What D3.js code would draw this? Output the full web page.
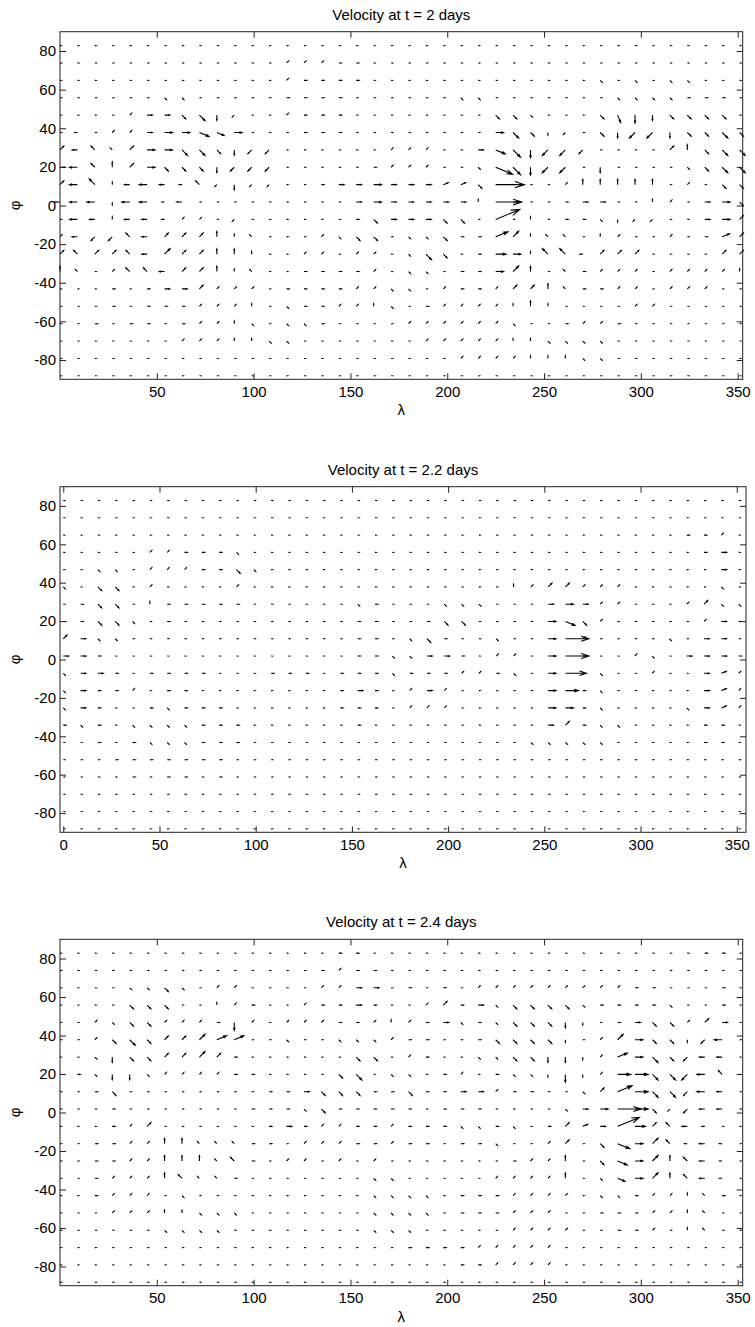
<!DOCTYPE html>
<html>
<head>
<meta charset="utf-8">
<script src="https://cdn.jsdelivr.net/npm/d3@7"></script>
<style>
  body { margin: 0; background: #fff; }
  svg { display: block; }
</style>
</head>
<body>
<svg id="fig" width="755" height="1327"></svg>
<script>
// Grid of the velocity field (degrees)
const longitudes = [0, 9, 18, 27, 36, 45, 54, 63, 72, 81, 90, 99, 108, 117, 126, 135, 144, 153, 162, 171,
  180, 189, 198, 207, 216, 225, 234, 243, 252, 261, 270, 279, 288, 297, 306, 315, 324, 333, 342, 351];
const latitudes = [82.8, 73.8, 64.8, 55.8, 46.8, 37.8, 28.8, 19.8, 10.8, 1.8,
  -7.2, -16.2, -25.2, -34.2, -43.2, -52.2, -61.2, -70.2, -79.2, -88.2];

const panelTitles = ["Velocity at t = 2 days", "Velocity at t = 2.2 days", "Velocity at t = 2.4 days"];
const lonTicksShort = [50, 100, 150, 200, 250, 300, 350];
const lonTicksFull = [0, 50, 100, 150, 200, 250, 300, 350];
const latTicks = [-80, -60, -40, -20, 0, 20, 40, 60, 80];

// Wind at every grid point, one string per latitude (north to south), one token per longitude.
// Token: direction letter a..p (a = east, counter-clockwise in 22.5 degree steps) + speed 0..F (m/s),
// "." = calm point.
const velocityDay2 = [
  ". . . . . . . . . .  . . . . . . . . . .  . . . . . . . . . .  . . . . . . . . . .",
  ". . . . . . . . . .  . . . c1 c1 c1 a1 a1 . .  . . . . . . . . . .  . . . . . . . . . .",
  ". . . . . . . . . .  . . . c1 a1 a1 a1 a1 . .  . . . . . . . . . .  . o1 . o1 . o1 o1 . . .",
  ". . . . . . o1 o1 . .  . . . a1 a1 a1 a1 . . .  . . . o1 o1 . . . . .  . . o1 o1 o1 o1 a1 a1 a1 .",
  ". . . . c1 a2 a2 o2 o3 m2  k1 . . c1 a1 a1 a1 . . .  . . . . . o2 o2 o1 . .  . o2 n3 m3 m2 o2 o2 o2 o2 .",
  ". i1 . c1 c1 a2 a3 a3 p4 p3  a3 . . . a1 a1 a1 . . .  . . . . . a3 o3 o2 m1 k1  . o2 m2 k3 k3 m2 o2 o2 o3 o2",
  "c2 i2 g2 g1 c2 a3 a3 o3 o3 o2  m2 k2 k2 . . . . . . c1  c1 c1 . . a2 p4 o4 m3 k3 k3  k2 . . . . c2 e2 o2 o3 o3",
  "a2 i3 g2 e2 c2 a3 o2 o2 o2 m2  k2 k2 k2 . . . . . a1 c1  c1 c1 . . o1 p7 o4 m3 k3 k3  . m2 . . . . o1 o2 o3 o3",
  "c2 i3 g3 e1 i2 i3 i2 i1 g2 k1  m2 k1 k1 . . a1 a2 a2 a3 a2  a2 a2 b2 b2 o2 aB . . . c1  e2 e2 e2 e2 e2 . c1 . o2 o2",
  "i2 i3 i3 m1 i3 i3 i1 i2 . .  . . . . . . . a2 a3 a2  a2 a2 a2 a2 e1 aA a2 . . a1  a2 a2 . . e1 c1 . a2 a3 o2",
  ". i3 i2 e1 i2 i2 i1 c1 c1 .  k1 . . . . . . a1 o2 a2  a2 a2 o2 o2 . bA . e1 . a1  a1 o1 m1 k1 k1 . . a2 a3 c2",
  "c1 i2 k2 k2 g2 i2 c2 c2 c2 e2  e1 g1 . . . c1 o1 o2 o2 .  o1 o1 o2 a1 a1 b5 c3 e1 g1 g1  . e1 c1 . . c1 . a1 b3 c2",
  "c2 g2 c2 c2 g2 i2 c3 c2 c2 e2  e2 e1 . . c1 c1 . c1 c1 .  o1 o3 o2 . a1 a4 a3 e1 g3 g3  i1 c2 c2 c2 . . . . c2 c2",
  "e2 g1 . c1 g2 g2 i2 c2 c2 e2  e1 g1 . . a1 a1 a1 a1 c1 .  o1 o1 . a1 a1 a3 c3 e2 . g1  a1 c1 c1 c1 . c1 c1 c1 c1 e1",
  ". . . a1 . a1 a2 a2 c2 c1  c1 c1 . a1 a1 a1 a1 c1 c1 o1  o1 . c1 a1 a1 c1 c2 c2 e2 g1  a1 a1 c1 c1 . c1 c1 c1 . .",
  ". . . a1 . a1 a1 a1 c1 c1  c1 e1 . o1 a1 a1 c1 c1 e1 o1  . a1 c1 c1 c1 c1 e1 e2 e1 .  . . . c1 c1 . . . . .",
  ". . a1 . a1 a1 . a1 c1 c1  e1 o1 . o1 o1 a1 . . . .  c1 c1 c1 c1 c1 c1 o1 . . a1  c1 c1 a1 . . . . . . .",
  ". . . . . . . c1 c1 c1  e1 e1 o1 o1 . . . . . .  . c1 c1 c1 c1 c1 e1 e1 o1 o1  o1 o1 . . . . . . . .",
  ". . . . . . . . . .  . . . . . . . . . .  . . . c1 c1 c1 c1 e1 e1 e1  o1 o1 . . . . . . . .",
  ". . . . . . . . . .  . . . . . . . . . .  . . . . . . . . . .  . . . . . . . . . ."
];

const velocityDay2p2 = [
  ". . . . . . . . . .  . . . . . . . . . .  . . . . . . . . . .  . . . . . . . . . .",
  ". . . . . . . . . .  . . . . . . . . . .  . . . . . . . . . .  . . . . . . . . . .",
  ". . . . . . . . . .  . . . . . . . . . .  . . . . . . . . . .  . . . . . . a1 a1 c1 .",
  ". . . . . c1 c1 a1 a1 a1  o1 . . . . . . . . .  . . . . . . . . . .  . . . . . . . a1 a2 .",
  ". . o1 o1 . c1 c1 c1 a1 a1  o2 o1 . . . . . . . .  . . . . . . . . . .  . . . . . . . . a2 .",
  "o1 . o2 o2 . c1 . . . .  c1 . . . . . . . . .  . . . . . . e1 c1 c2 c2  c1 c1 c1 . . . . . o1 .",
  ". a1 o2 o2 . e1 a1 a1 a1 a1  a1 . . . . . . o1 a1 .  . . o1 o1 o1 . . . a2 a3  a2 c1 c1 . . . c1 c2 o1 o1",
  "a1 a1 o2 o2 o1 . a1 . . .  . . . . . . . a1 a1 .  . a1 o2 o2 . . . . a3 p4  o2 c1 . . . . . c1 a2 a1",
  "c2 a2 o1 o1 . . . . . .  . . . . . . . a1 a1 .  o1 o2 a1 . . o1 . . a3 a9  c1 . . . . o1 . a2 a2 .",
  "a2 a2 a1 . . . . . . .  . . . . . . . a1 a1 o1  o1 a2 a2 a1 . c1 c1 . a3 a9  . . . c1 o1 . a2 a2 a2 a1",
  "o1 a2 a2 a1 . a1 a1 a1 a1 .  . . a1 a1 a1 . a1 a1 a1 o1  a1 a1 a1 c1 c1 a1 o1 . a3 a8  . o1 . . c1 . . a2 b2 c1",
  "o1 a2 a1 a1 c1 . a1 a1 . .  . . . . . . a1 a2 a1 .  c1 a2 c1 . . . . . a3 a5  a1 o1 . . . . . a2 b2 c1",
  "o1 a2 a1 . . a1 o1 a1 a1 a1  . . . . . . a1 a1 a1 .  c1 c1 c1 . . . . . a3 a3  a1 o1 . . . . o1 a2 b2 c1",
  "a1 o1 a1 . o1 o1 o1 o1 a1 a1  a1 . . . . . . a1 . .  . . . . . . . . a2 c2  a1 o1 o1 . . . . a1 a1 .",
  ". . a1 . a1 o1 o1 o1 a1 a1  a1 . . . . . . . . .  . . . . . . . o1 o1 o1  o1 o1 . . . . . a1 a1 .",
  ". . . a1 a1 a1 a1 a1 a1 a1  . . . . . . . . . .  . . . . . . . . . .  . . . . . . . . . .",
  ". . . . a1 . a1 a1 . a1  . . . . . . . . . .  . . . . . . . . . .  . . . . . . . . . .",
  ". . . . . . . . . .  . . . . . . . . . .  . . . . . . . . . .  . . . . . . . . . .",
  ". . . . . . . . . .  . . . . . . . . . .  . . . . . . . . . .  . . . . . . . . . .",
  ". . . . . . . . . .  . . . . . . . . . .  . . . . . . . . . .  . . . . . . . . . ."
];

const velocityDay2p4 = [
  ". . . . . . . . . .  . . . . . . a1 a1 . .  . . . . . . . . . .  . . . . . . . a1 a1 .",
  ". . . . . . . . . .  . . . . . a1 c1 a1 a1 .  . . . . . . . . . .  . . . . . . . . . .",
  ". . . . o1 o1 o2 o1 . c1  c1 . . . . c1 c1 a2 a2 .  a1 . a1 . c1 c1 c1 c1 c1 c1  c1 c1 c1 a1 a1 . . . a1 .",
  ". . . . o2 o2 o2 . . e1  c1 a1 . . c1 a1 a1 a2 a1 .  . c1 c2 a1 a2 o1 o2 o2 o2 o2  o1 a1 a1 a1 a1 o1 . . a1 .",
  ". . c1 o1 o2 o2 c1 c1 c1 a1  m3 c1 . c1 c1 c1 a1 a1 c1 e1  c1 a1 a2 o1 a1 o1 o2 o2 o2 m2  m1 . a1 a2 o2 o2 c1 c2 a2 .",
  ". . c1 o2 o3 o2 c2 c2 c3 b4  b4 . . o1 . . o1 o1 o1 c1  a1 a1 . . a1 o2 o2 o2 o2 m1  . c1 c3 a3 o2 o2 m1 k2 i3 .",
  ". . o1 m2 o2 o2 c2 c2 c3 c2  a1 . . . . . . o2 o2 .  c1 a1 . . o1 o1 o2 o2 m2 m2  m1 c1 b4 a3 o3 o2 k2 i2 i2 .",
  ". a1 o1 m2 m2 o1 c1 c1 c1 c1  a1 a1 . . . . o2 o3 . o1  o1 . a1 c1 . a1 o1 o1 m1 m3  m1 c1 a5 a5 o3 o3 k3 i3 g2 .",
  ". . a1 o2 . . . . . .  . . a1 a1 a2 o2 o2 o2 a1 a1  o2 a1 a1 a2 a2 c1 a1 a1 . .  o1 c2 b6 a5 o3 o3 k2 i3 i2 .",
  ". . . a1 . . . . . .  . a1 a1 a1 o1 o2 a1 a1 a1 a1  a1 . a1 a1 a1 . . . . o1  a2 a3 a9 a5 o2 k1 k2 i2 i2 .",
  ". . . a1 c1 c2 . . . .  . . a1 a2 a1 c1 c1 a1 a1 c1  a1 a1 a1 o1 o1 a1 o1 . a1 c2  b2 a2 b9 a4 c2 g2 i2 i1 . .",
  ". . a1 a1 c1 c1 e2 e2 g1 g1  g1 a1 a1 . c1 c1 c1 a1 a1 c1  a1 a1 . a1 a1 o1 . . c1 c2  . o2 p5 a3 c3 g2 i1 i2 i1 .",
  ". . a1 a1 c1 c1 e2 e2 e2 g1  g2 a1 . c1 c1 . c1 . c1 .  . . . . . . a1 c1 c1 e2  . o2 p4 a3 c3 e2 g2 i2 i1 .",
  ". . a1 c1 c1 c1 e2 g2 g1 g1  a1 . . . . . . . o1 o1  . . . . . c1 c1 c1 c1 e2  . o1 p3 a3 c3 e2 g2 i2 i1 .",
  ". . a1 c1 c1 c1 . o1 . .  . . . . . . . . o1 o1  o1 o1 . a1 a1 a1 c1 c1 c1 c1  . o1 o1 a1 c1 c1 e1 g1 a1 .",
  ". . . c1 c1 c1 e1 e1 o1 o1  o1 . . . . . . . o1 o1  o1 o1 . a1 a1 a1 c1 c1 c1 .  . a1 a1 a1 c1 c1 e1 g1 . .",
  ". . . . . . o1 o1 o1 o1  . . . . . . . . o1 o1  o1 . . . . . c1 c1 c1 c1  . . a1 a1 c1 . e1 g1 . .",
  ". . . . . . . . . .  . . . . . . . . . .  a1 a1 a1 a1 c1 c1 c1 c1 c1 .  . . . . . . . . . .",
  ". . . . . . . . . .  . . . . . . . . . .  . . . a1 a1 c1 c1 c1 c1 .  . . . . . . . . . .",
  ". . . . . . . . . .  . . . . . . . . . .  . . . . . . . . . .  . . . . . . . . . ."
];

// ---- decoding of the wind tokens ----
const DIRECTIONS = "abcdefghijklmnop";
const SPEED_CODES = "0123456789ABCDEF";
const CALM_SPEED = 0.5;

function decodeField(rows) {
  if (rows.length !== latitudes.length) throw new Error("field needs " + latitudes.length + " rows");
  const points = [];
  rows.forEach((row, r) => {
    const tokens = row.match(/[a-p][0-9A-F]|\./g);
    if (tokens.length !== longitudes.length) {
      throw new Error("row " + r + " has " + tokens.length + " tokens");
    }
    tokens.forEach((t, c) => {
      let u = CALM_SPEED, v = 0;
      if (t !== ".") {
        const ang = DIRECTIONS.indexOf(t[0]) * Math.PI / 8;
        const s = SPEED_CODES.indexOf(t[1]) || CALM_SPEED;
        u = s * Math.cos(ang);
        v = s * Math.sin(ang);
      }
      points.push({ lon: longitudes[c], lat: latitudes[r], u, v });
    });
  });
  return points;
}

// ---- layout ----
const panels = [
  { title: panelTitles[0], field: velocityDay2,   left: 60, right: 742.7, top: 31.7,  bottom: 379.3,  lonDomain: [0, 352.6],    lonTicks: lonTicksShort },
  { title: panelTitles[1], field: velocityDay2p2, left: 60, right: 746,   top: 486.7, bottom: 832.3,  lonDomain: [-1.7, 354.8], lonTicks: lonTicksFull },
  { title: panelTitles[2], field: velocityDay2p4, left: 60, right: 742.7, top: 939.3, bottom: 1285.7, lonDomain: [0, 352.6],    lonTicks: lonTicksShort }
];

const FONT = "'Liberation Sans', Arial, Helvetica, sans-serif";
const DEG_PER_MS = 1.35;      // arrow length: degrees per m/s
const HEAD_A = 0.33, HEAD_B = 0.33;  // quiver arrow-head proportions
const TICK = 6;

const svg = d3.select("#fig");

panels.forEach(p => {
  const g = svg.append("g");
  const x = d3.scaleLinear().domain(p.lonDomain).range([p.left, p.right]);
  const y = d3.scaleLinear().domain([-90, 90]).range([p.bottom, p.top]);
  const cx = (p.left + p.right) / 2;
  const cy = (p.top + p.bottom) / 2;

  // arrows
  const pts = decodeField(p.field);
  g.append("g")
    .attr("fill", "none")
    .attr("stroke", "#000")
    .attr("stroke-width", 1.1)
    .selectAll("path")
    .data(pts)
    .join("path")
    .attr("d", d => {
      const x0 = x(d.lon), y0 = y(d.lat);
      const x1 = x(d.lon + d.u * DEG_PER_MS), y1 = y(d.lat + d.v * DEG_PER_MS);
      const U = x1 - x0, V = y0 - y1;   // upward positive
      const h1x = x1 - HEAD_A * (U + HEAD_B * V), h1y = y1 + HEAD_A * (V - HEAD_B * U);
      const h2x = x1 - HEAD_A * (U - HEAD_B * V), h2y = y1 + HEAD_A * (V + HEAD_B * U);
      return `M${x0},${y0}L${x1},${y1}M${h1x},${h1y}L${x1},${y1}L${h2x},${h2y}`;
    });

  // axes with inward ticks on all four sides
  const styleAxis = sel => {
    sel.select(".domain").remove();
    sel.attr("font-size", 15).attr("font-family", FONT).style("color", "#000");
    sel.selectAll(".tick line").attr("stroke", "#222");
  };
  g.append("g").attr("transform", `translate(0,${p.bottom})`)
    .call(d3.axisBottom(x).tickValues(p.lonTicks).tickSizeInner(-TICK).tickSizeOuter(0).tickPadding(7).tickFormat(d => String(d)))
    .call(styleAxis);
  g.append("g").attr("transform", `translate(0,${p.top})`)
    .call(d3.axisTop(x).tickValues(p.lonTicks).tickSizeInner(-TICK).tickSizeOuter(0).tickFormat(""))
    .call(styleAxis);
  g.append("g").attr("transform", `translate(${p.left},0)`)
    .call(d3.axisLeft(y).tickValues(latTicks).tickSizeInner(-TICK).tickSizeOuter(0).tickPadding(4).tickFormat(d => String(d)))
    .call(styleAxis);
  g.append("g").attr("transform", `translate(${p.right},0)`)
    .call(d3.axisRight(y).tickValues(latTicks).tickSizeInner(-TICK).tickSizeOuter(0).tickFormat(""))
    .call(styleAxis);

  // frame
  g.append("rect")
    .attr("x", p.left).attr("y", p.top)
    .attr("width", p.right - p.left).attr("height", p.bottom - p.top)
    .attr("fill", "none").attr("stroke", "#222").attr("stroke-width", 1);

  // title and axis labels
  g.append("text")
    .attr("x", cx).attr("y", p.top - 12)
    .attr("text-anchor", "middle")
    .attr("font-family", FONT).attr("font-size", 15).attr("fill", "#000")
    .text(p.title);
  g.append("text")
    .attr("x", cx).attr("y", p.bottom + 36)
    .attr("text-anchor", "middle")
    .attr("font-family", FONT).attr("font-size", 15).attr("fill", "#000")
    .text("λ");
  g.append("text")
    .attr("transform", `translate(20,${cy}) rotate(-90)`)
    .attr("text-anchor", "middle")
    .attr("font-family", FONT).attr("font-size", 15).attr("fill", "#000")
    .text("φ");
});
</script>
</body>
</html>
